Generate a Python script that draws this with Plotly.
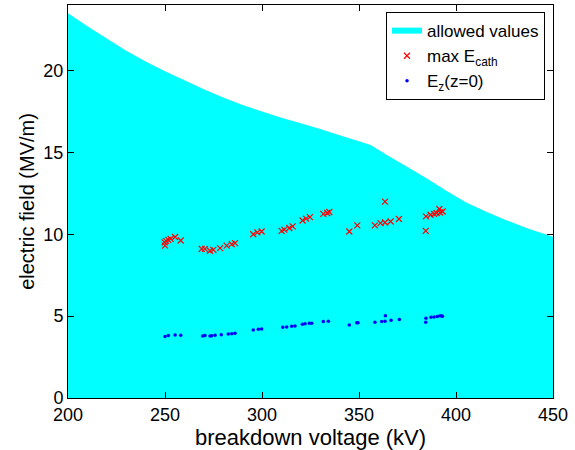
import plotly.graph_objects as go

# Boundary of allowed region
bound_v = [200, 210, 220, 230, 240, 250, 260, 270, 280, 290, 300, 310, 320,
           330, 340, 350, 356, 365, 375, 385, 395, 405, 415, 425, 437, 450]
bound_e = [23.5, 22.7, 21.95, 21.2, 20.55, 19.95, 19.4, 18.85, 18.35, 17.9,
           17.5, 17.12, 16.78, 16.42, 16.05, 15.68, 15.45, 14.8, 14.1, 13.4,
           12.65, 11.95, 11.4, 10.9, 10.35, 9.85]

# max E_cath (red crosses)
cath_v = [250.0, 250.5, 251.7, 252.9, 255.2, 258.1, 249.8,
          268.9, 270.6, 273.2, 274.9, 278.4, 281.8, 284.4, 286.1,
          295.5, 297.6, 299.8, 310.1, 311.5, 314.1, 315.8, 320.9, 322.7, 324.7,
          331.6, 333.6, 334.7, 345.0, 349.1, 358.2, 361.1, 363.4, 366.3, 370.6,
          363.4, 384.4, 384.5, 386.9, 388.7, 390.0, 391.4, 391.8, 393.1]
cath_e = [9.31, 9.6, 9.66, 9.72, 9.83, 9.62, 9.5,
          9.11, 9.11, 8.99, 9.05, 9.15, 9.31, 9.4, 9.46,
          10.0, 10.11, 10.17, 10.21, 10.28, 10.38, 10.48, 10.84, 10.95, 11.05,
          11.24, 11.3, 11.36, 10.17, 10.54, 10.54, 10.68, 10.72, 10.78, 10.93,
          11.99, 10.21, 11.09, 11.19, 11.24, 11.3, 11.54, 11.33, 11.39]

# E_z(z=0) (blue dots)
ez_v = [250.0, 251.7, 255.2, 258.1, 269.4, 270.6, 273.2, 274.0, 275.8, 279.0,
        282.6, 284.4, 286.1, 295.5, 298.1, 299.8, 310.7, 312.7, 315.3, 317.0,
        320.8, 322.2, 324.4, 325.6, 331.6, 334.2, 345.0, 348.8, 349.5, 358.2,
        361.7, 363.4, 363.6, 366.5, 370.8, 384.4, 384.5, 387.1, 388.7, 390.4,
        391.8, 392.6, 393.0]
ez_e = [3.75, 3.81, 3.85, 3.83, 3.79, 3.81, 3.79, 3.8, 3.83, 3.87,
        3.91, 3.93, 3.96, 4.16, 4.2, 4.22, 4.32, 4.34, 4.38, 4.4,
        4.5, 4.53, 4.57, 4.57, 4.67, 4.69, 4.46, 4.59, 4.59, 4.63,
        4.67, 4.69, 5.03, 4.75, 4.79, 4.63, 4.87, 4.93, 4.95, 4.97,
        5.03, 5.01, 5.0]

x_ticks = [200, 250, 300, 350, 400, 450]
y_ticks = [0, 5, 10, 15, 20]

FONT = "Liberation Sans, Arial, Helvetica, sans-serif"

fig = go.Figure()
fig.add_trace(go.Scatter(
    x=bound_v, y=bound_e, mode="none", fill="tozeroy",
    fillcolor="#00FFFF", name="allowed values"))
fig.add_trace(go.Scatter(
    x=cath_v, y=cath_e, mode="markers", name="max E<sub>cath</sub>",
    marker=dict(symbol="x-thin", size=6, line=dict(color="#FF0000", width=1.2),
                color="#FF0000")))
fig.add_trace(go.Scatter(
    x=ez_v, y=ez_e, mode="markers", name="E<sub>z</sub>(z=0)",
    marker=dict(symbol="circle", size=3.5, color="#0000FF")))

axis_common = dict(
    showgrid=False, zeroline=False, showline=True, linecolor="black",
    linewidth=1, mirror="ticks", ticks="inside", ticklen=6,
    tickcolor="black", tickfont=dict(size=18, color="black", family=FONT),
)

fig.update_layout(
    width=575, height=450,
    margin=dict(l=68, r=22, t=5, b=52),
    paper_bgcolor="white", plot_bgcolor="white",
    font=dict(family=FONT, color="black"),
    showlegend=True,
    legend=dict(
        x=0.9835, y=0.982, xanchor="right", yanchor="top",
        bgcolor="white", bordercolor="black", borderwidth=1,
        font=dict(size=17, family=FONT, color="black"),
        tracegroupgap=0, itemsizing="trace", itemwidth=30,
    ),
    xaxis=dict(range=[200, 450], tickvals=x_ticks,
               title=dict(text="breakdown voltage (kV)",
                          font=dict(size=22, family=FONT), standoff=2),
               **axis_common),
    yaxis=dict(range=[0, 24], tickvals=y_ticks,
               title=dict(text="electric field (MV/m)",
                          font=dict(size=20, family=FONT), standoff=3),
               **axis_common),
)

fig.write_html("out.html")
